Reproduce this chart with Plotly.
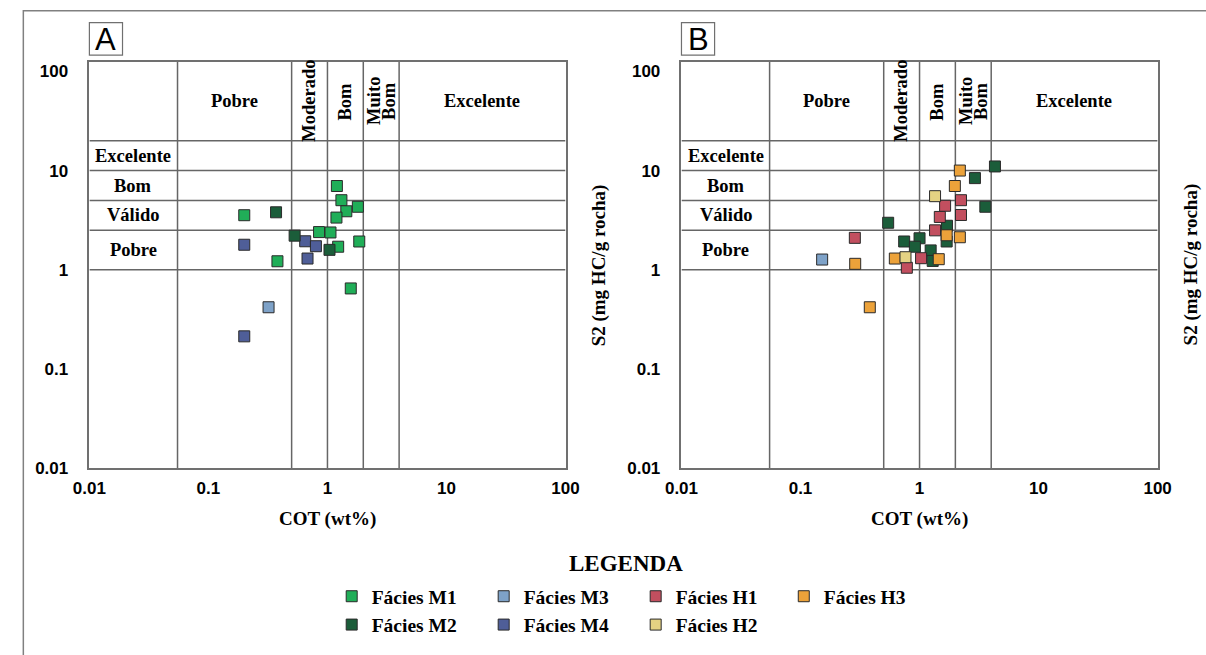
import math
import plotly.graph_objects as go

W, H = 1206, 655

# ---- classification limits (COT in wt%, S2 in mg HC/g rocha) ----
cot_limits = [0.055, 0.5, 1, 2, 4]
s2_limits = [1, 2.5, 5, 10, 20]
cot_classes = ["Pobre", "Moderado", "Bom", "Muito<br>Bom", "Excelente"]
cot_class_angle = [0, -90, -90, -90, 0]
s2_classes = ["Pobre", "Válido", "Bom", "Excelente"]

tick_vals = [0.01, 0.1, 1, 10, 100]
tick_text = ["0.01", "0.1", "1", "10", "100"]
x_min, x_max = 0.01, 100
y_min, y_max = 0.01, 124.7

# ---- facies ----
facies_names = ["Fácies M1", "Fácies M2", "Fácies M3", "Fácies M4",
                "Fácies H1", "Fácies H2", "Fácies H3"]
facies_colors = {
    "Fácies M1": "#20ae58",
    "Fácies M2": "#1b5d3a",
    "Fácies M3": "#7ea2c8",
    "Fácies M4": "#4f5e98",
    "Fácies H1": "#c24f5f",
    "Fácies H2": "#e4d283",
    "Fácies H3": "#eca23a",
}

# ---- panel A samples ----
a_m1_cot = [0.20, 0.38, 1.20, 1.31, 1.80, 1.44, 1.19, 0.85, 1.06, 1.23, 1.85, 1.57]
a_m1_s2 = [3.55, 1.22, 6.99, 5.03, 4.32, 3.89, 3.36, 2.40, 2.38, 1.71, 1.93, 0.65]
a_m3_cot = [0.32]
a_m3_s2 = [0.42]
a_m4_cot = [0.20, 0.65, 0.80, 0.68, 0.20]
a_m4_s2 = [1.79, 1.94, 1.73, 1.30, 0.214]
a_m2_cot = [0.37, 0.53, 1.04]
a_m2_s2 = [3.80, 2.21, 1.59]

# ---- panel B samples ----
b_m3_cot = [0.152]
b_m3_s2 = [1.27]
b_m2_cot = [4.30, 2.92, 3.57, 0.545, 0.743, 1.00, 0.914, 1.24, 1.29, 1.70, 1.69]
b_m2_s2 = [11.0, 8.39, 4.32, 2.98, 1.93, 2.08, 1.71, 1.57, 1.23, 2.78, 1.93]
b_h1_cot = [0.286, 0.782, 1.03, 1.35, 1.48, 1.64, 2.23, 2.23]
b_h1_s2 = [2.10, 1.05, 1.31, 2.50, 3.41, 4.42, 5.03, 3.57]
b_h3_cot = [2.18, 1.98, 1.69, 2.18, 0.62, 1.45, 0.288, 0.382]
b_h3_s2 = [10.0, 6.99, 2.23, 2.13, 1.30, 1.28, 1.15, 0.42]
b_h2_cot = [1.35, 0.762]
b_h2_s2 = [5.52, 1.34]

panel_a = [("Fácies M1", a_m1_cot, a_m1_s2), ("Fácies M3", a_m3_cot, a_m3_s2),
           ("Fácies M4", a_m4_cot, a_m4_s2), ("Fácies M2", a_m2_cot, a_m2_s2)]
panel_b = [("Fácies M3", b_m3_cot, b_m3_s2), ("Fácies M2", b_m2_cot, b_m2_s2),
           ("Fácies H1", b_h1_cot, b_h1_s2), ("Fácies H3", b_h3_cot, b_h3_s2),
           ("Fácies H2", b_h2_cot, b_h2_s2)]

# legend columns: (legend id, facies in that column)
legend_columns = [("legend", ["Fácies M1", "Fácies M2"]),
                  ("legend2", ["Fácies M3", "Fácies M4"]),
                  ("legend3", ["Fácies H1", "Fácies H2"]),
                  ("legend4", ["Fácies H3"])]
legend_of = {f: lid for lid, fs in legend_columns for f in fs}

SERIF = "Liberation Serif"
SANS = "Liberation Sans"
GRID = "#666666"


def px_x(v):
    return v / W


def px_y(v):
    return 1 - v / H


fig = go.Figure()

# plot traces; each facies shows one legend entry
shown = set()
for (xa, ya), panel in ((("x", "y"), panel_a), (("x2", "y2"), panel_b)):
    for name, cot, s2 in panel:
        fig.add_trace(go.Scatter(
            x=cot, y=s2, mode="markers", name=name, xaxis=xa, yaxis=ya,
            legendgroup=name, legend=legend_of[name],
            showlegend=name not in shown,
            marker=dict(symbol="square", size=11, color=facies_colors[name],
                        line=dict(color="#2a2a2a", width=1)),
        ))
        shown.add(name)

# order legend entries inside each column
rank = {n: i for i, n in enumerate(facies_names)}
for tr in fig.data:
    tr.legendrank = rank[tr.name]

axis_common = dict(
    type="log", showgrid=False, zeroline=False,
    showline=True, mirror=True, linecolor="#707070", linewidth=1.5,
    tickmode="array", tickvals=tick_vals, ticktext=tick_text,
    tickfont=dict(family=SANS, size=17, color="black", weight="bold"),
    ticks="",
)

x_dom_a = [px_x(74.3), px_x(563.0)]
x_dom_b = [px_x(682.0), px_x(1170.7)]
y_dom = [px_y(475.7), px_y(62.7)]

layout = dict(
    width=W, height=H,
    margin=dict(l=0, r=0, t=0, b=0),
    paper_bgcolor="white", plot_bgcolor="white",
    xaxis=dict(axis_common, domain=x_dom_a, anchor="y",
               range=[math.log10(x_min), math.log10(x_max)], ticklabelstandoff=3),
    yaxis=dict(axis_common, domain=y_dom, anchor="x",
               range=[math.log10(y_min), math.log10(y_max)], ticklabelstandoff=16),
    xaxis2=dict(axis_common, domain=x_dom_b, anchor="y2",
                range=[math.log10(x_min), math.log10(x_max)], ticklabelstandoff=3),
    yaxis2=dict(axis_common, domain=y_dom, anchor="x2",
                range=[math.log10(y_min), math.log10(y_max)], ticklabelstandoff=16),
    showlegend=True,
)

# four legend columns below the plots
legend_left = [323, 479, 635, 787]
for (lid, _), left in zip(legend_columns, legend_left):
    layout[lid] = dict(
        x=px_x(left), y=px_y(586), xanchor="left", yanchor="top",
        orientation="v", bgcolor="rgba(0,0,0,0)", borderwidth=0,
        font=dict(family=SERIF, size=19.5, color="black", weight="bold"),
        traceorder="normal", tracegroupgap=0,
    )

fig.update_layout(**layout)

shapes = []
annotations = []

# outer frame
shapes.append(dict(type="rect", xref="paper", yref="paper",
                   x0=px_x(6.5), x1=px_x(1240), y0=px_y(690), y1=px_y(11),
                   line=dict(color="#808080", width=1.5), layer="below"))

label_font = dict(family=SERIF, size=18.5, color="black", weight="bold")

for xa, ya, letter, left in (("x", "y", "A", 74.3), ("x2", "y2", "B", 682.0)):
    # classification grid
    for v in cot_limits:
        shapes.append(dict(type="line", xref=xa, yref=ya, x0=v, x1=v,
                           y0=y_min, y1=y_max, line=dict(color=GRID, width=1.5),
                           layer="below"))
    for v in s2_limits:
        shapes.append(dict(type="line", xref=xa, yref=ya, x0=x_min, x1=x_max,
                           y0=v, y1=v, line=dict(color=GRID, width=1.5),
                           layer="below"))

    # COT classes along the top row (multi-line labels set with tight spacing)
    bounds = cot_limits + [x_max]
    y_row = (math.log10(s2_limits[-1]) + math.log10(y_max)) / 2
    for i, (label, ang) in enumerate(zip(cot_classes, cot_class_angle)):
        xc = (math.log10(bounds[i]) + math.log10(bounds[i + 1])) / 2
        lines = label.split("<br>")
        step = 15
        for j, part in enumerate(lines):
            shift = (j - (len(lines) - 1) / 2) * step
            annotations.append(dict(
                xref=xa, yref=ya, x=xc, y=y_row, text=part, showarrow=False,
                textangle=ang, xanchor="center", yanchor="middle",
                xshift=shift if ang else 0, yshift=0 if ang else -shift,
                font=label_font,
            ))

    # S2 classes along the left column
    x_col = (math.log10(x_min) + math.log10(cot_limits[0])) / 2
    for i, label in enumerate(s2_classes):
        yc = (math.log10(s2_limits[i]) + math.log10(s2_limits[i + 1])) / 2
        annotations.append(dict(
            xref=xa, yref=ya, x=x_col, y=yc, text=label, showarrow=False,
            xanchor="center", yanchor="middle", font=label_font,
        ))

    # panel letter in a box
    shapes.append(dict(type="rect", xref="paper", yref="paper",
                       x0=px_x(left), x1=px_x(left + 34), y0=px_y(56), y1=px_y(23),
                       line=dict(color="#707070", width=1.2)))
    annotations.append(dict(
        xref="paper", yref="paper", x=px_x(left + 17), y=px_y(40),
        text=letter, showarrow=False, xanchor="center", yanchor="middle",
        font=dict(family=SANS, size=31, color="black"),
    ))

    # axis titles
    annotations.append(dict(
        xref="paper", yref="paper", x=px_x(left + 244.4), y=px_y(527),
        text="COT (wt%)", showarrow=False, xanchor="center", yanchor="middle",
        font=dict(family=SERIF, size=19, color="black", weight="bold"),
    ))
    annotations.append(dict(
        xref="paper", yref="paper", x=px_x(left + 522.5), y=px_y(269),
        text="S2 (mg HC/g rocha)", showarrow=False, textangle=-90,
        xanchor="center", yanchor="middle",
        font=dict(family=SERIF, size=19, color="black", weight="bold"),
    ))

annotations.append(dict(
    xref="paper", yref="paper", x=px_x(625), y=px_y(572),
    text="LEGENDA", showarrow=False, xanchor="center", yanchor="middle",
    font=dict(family=SERIF, size=23, color="black", weight="bold"),
))

fig.update_layout(shapes=shapes, annotations=annotations)
fig.write_html("out.html")
